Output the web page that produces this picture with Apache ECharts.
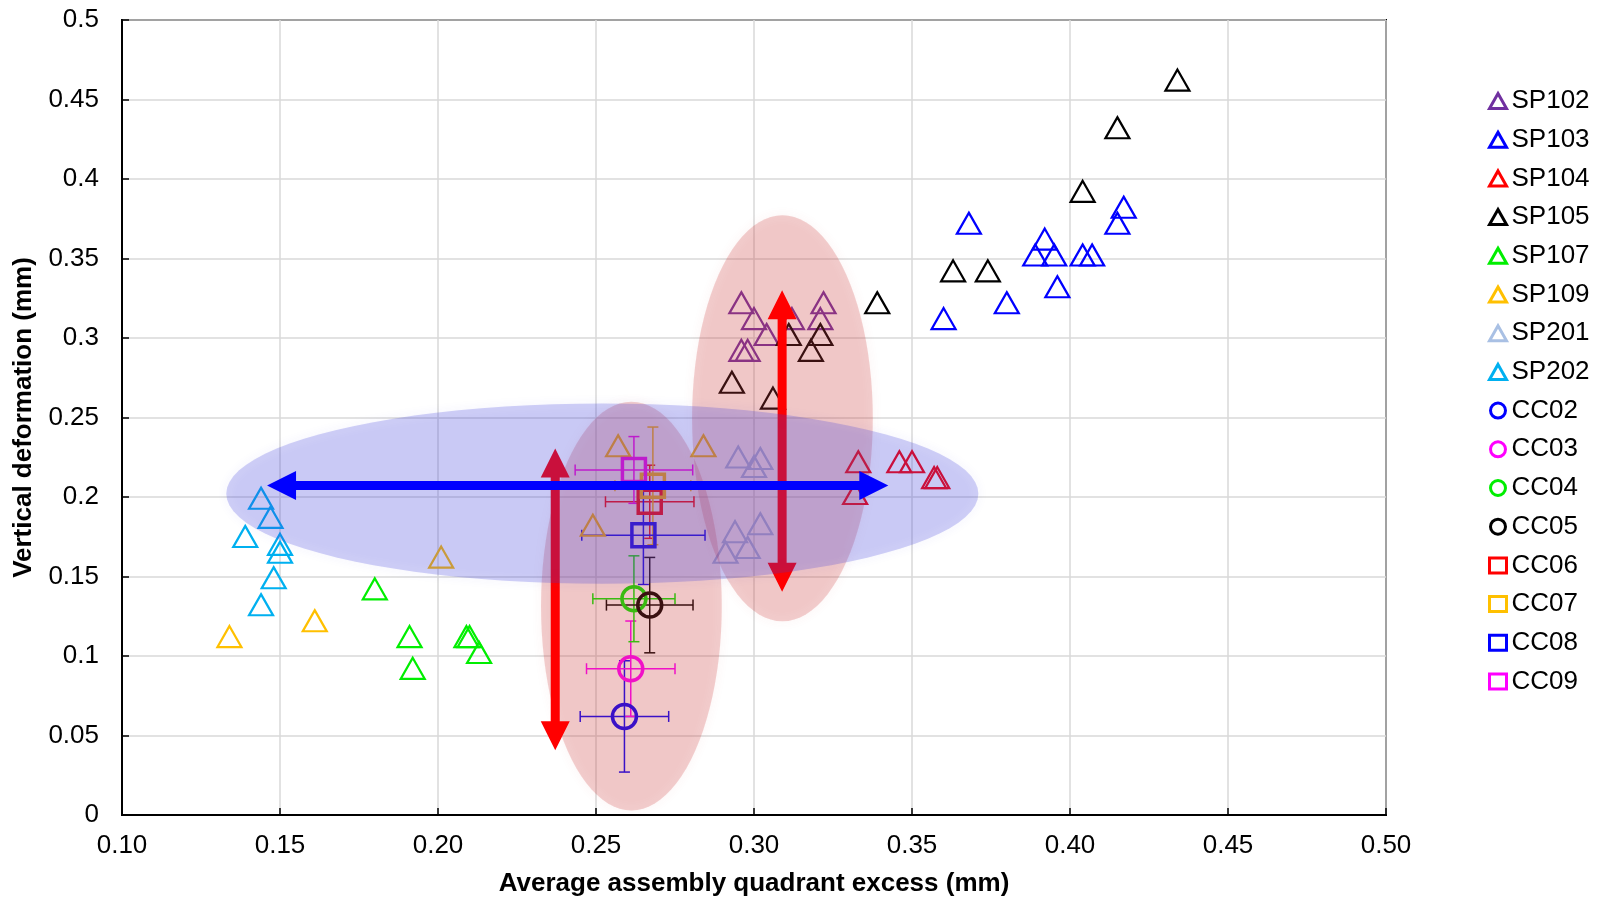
<!DOCTYPE html>
<html>
<head>
<meta charset="utf-8">
<script src="https://cdn.jsdelivr.net/npm/echarts@6/dist/echarts.min.js"></script>
<style>html,body{margin:0;padding:0;background:#fff;overflow:hidden}#c{width:1601px;height:897px}</style>
</head>
<body>
<div id="c"></div>
<script>
// ---- data ----
var xTicks = [0.10, 0.15, 0.20, 0.25, 0.30, 0.35, 0.40, 0.45, 0.50];
var yTicks = [0, 0.05, 0.1, 0.15, 0.2, 0.25, 0.3, 0.35, 0.4, 0.45, 0.5];

var SP102 = [[0.296,0.32],[0.300,0.31],[0.304,0.30],[0.312,0.31],[0.322,0.32],[0.321,0.31],[0.296,0.29],[0.298,0.29]];
var SP103 = [[0.368,0.37],[0.360,0.31],[0.380,0.32],[0.392,0.36],[0.389,0.35],[0.395,0.35],[0.396,0.33],[0.404,0.35],[0.407,0.35],[0.415,0.37],[0.417,0.38]];
var SP104 = [[0.333,0.22],[0.332,0.20],[0.346,0.22],[0.350,0.22],[0.357,0.21],[0.358,0.21]];
var SP105 = [[0.434,0.46],[0.415,0.43],[0.404,0.39],[0.339,0.32],[0.363,0.34],[0.374,0.34],[0.311,0.30],[0.321,0.30],[0.318,0.29],[0.293,0.27],[0.306,0.26]];
var SP107 = [[0.180,0.14],[0.191,0.11],[0.192,0.09],[0.209,0.11],[0.210,0.11],[0.213,0.10]];
var SP109 = [[0.134,0.11],[0.161,0.12],[0.201,0.16],[0.249,0.18],[0.257,0.23],[0.284,0.23]];
var SP201 = [[0.295,0.223],[0.302,0.222],[0.300,0.217],[0.294,0.176],[0.302,0.181],[0.298,0.166],[0.291,0.163]];
var SP202 = [[0.144,0.197],[0.147,0.185],[0.139,0.173],[0.150,0.168],[0.150,0.163],[0.148,0.147],[0.144,0.130]];

// [x, y, xError, yError]
var CC02 = [[0.259,0.062,0.014,0.035]];
var CC03 = [[0.261,0.092,0.014,0.030]];
var CC04 = [[0.262,0.136,0.013,0.027]];
var CC05 = [[0.267,0.132,0.0137,0.030]];
var CC06 = [[0.267,0.197,0.014,0.023]];
var CC07 = [[0.268,0.207,0.012,0.037]];
var CC08 = [[0.265,0.176,0.0195,0.031]];
var CC09 = [[0.262,0.217,0.0186,0.021]];

// annotations in data units: [cx, cy, rx, ry]
var pinkEllipses = [[0.2612,0.1314,0.0286,0.1285],[0.3090,0.2495,0.0286,0.1277]];
var blueEllipse = [[0.252,0.2021,0.119,0.0567]];
// double arrows: [x1, y1, x2, y2]
var redArrows = [[0.2371,0.2305,0.2371,0.0407],[0.3089,0.330,0.3089,0.1404]];
var blueArrows = [[0.1459,0.2073,0.3425,0.2073]];

// ---- chart ----
var FONT = 'Liberation Sans, Arial, sans-serif';
var chart = echarts.init(document.getElementById('c'), null, {renderer:'canvas'});

var triSeries = [
  ['SP102', SP102, '#7030A0'],
  ['SP103', SP103, '#0000FF'],
  ['SP104', SP104, '#FF0000'],
  ['SP105', SP105, '#000000'],
  ['SP107', SP107, '#00EE00'],
  ['SP109', SP109, '#FFC000'],
  ['SP201', SP201, '#A9C0E4'],
  ['SP202', SP202, '#00B0F0']
];
var ccSeries = [
  ['CC02', CC02, '#0000FF', 'circle'],
  ['CC03', CC03, '#FF00FF', 'circle'],
  ['CC04', CC04, '#00EE00', 'circle'],
  ['CC05', CC05, '#000000', 'circle'],
  ['CC06', CC06, '#FF0000', 'rect'],
  ['CC07', CC07, '#FFC000', 'rect'],
  ['CC08', CC08, '#0000FF', 'rect'],
  ['CC09', CC09, '#FF00FF', 'rect']
];

var series = [];
triSeries.forEach(function(s){
  series.push({
    name: s[0], type:'scatter', data: s[1], symbol:'triangle', symbolSize:[24,21], symbolOffset:[0,-3.5],
    itemStyle:{color:'rgba(0,0,0,0)', borderColor:s[2], borderWidth:2.2, opacity:1},
    emphasis:{disabled:true}, z:2
  });
});

function errRender(color){
  return function(params, api){
    var x = api.value(0), y = api.value(1), xe = api.value(2), ye = api.value(3);
    var l = api.coord([x-xe,y]), r = api.coord([x+xe,y]);
    var b = api.coord([x,y-ye]), t = api.coord([x,y+ye]);
    var cap = 5.5;
    var st = {stroke: color, lineWidth: 1.5};
    return {type:'group', children:[
      {type:'line', shape:{x1:l[0],y1:l[1],x2:r[0],y2:r[1]}, style:st},
      {type:'line', shape:{x1:l[0],y1:l[1]-cap,x2:l[0],y2:l[1]+cap}, style:st},
      {type:'line', shape:{x1:r[0],y1:r[1]-cap,x2:r[0],y2:r[1]+cap}, style:st},
      {type:'line', shape:{x1:b[0],y1:b[1],x2:t[0],y2:t[1]}, style:st},
      {type:'line', shape:{x1:b[0]-cap,y1:b[1],x2:b[0]+cap,y2:b[1]}, style:st},
      {type:'line', shape:{x1:t[0]-cap,y1:t[1],x2:t[0]+cap,y2:t[1]}, style:st}
    ]};
  };
}
ccSeries.forEach(function(s){
  series.push({
    name: s[0]+'_err', type:'custom', data: s[1], renderItem: errRender(s[2]),
    encode:{x:0,y:1}, silent:true, z:2
  });
});
ccSeries.forEach(function(s){
  series.push({
    name: s[0], type:'scatter', data: s[1].map(function(d){return [d[0],d[1]];}),
    symbol: s[3], symbolSize: s[3]==='circle'?24:23,
    itemStyle:{color:'rgba(0,0,0,0)', borderColor:s[2], borderWidth:3.5, opacity:1},
    emphasis:{disabled:true}, z:2
  });
});

function ellipseRender(fill, blur){
  return function(params, api){
    var c = api.coord([api.value(0), api.value(1)]);
    var sz = api.size([api.value(2), api.value(3)]);
    var pts = [];
    for (var i=0;i<96;i++){
      var a = i/96*Math.PI*2;
      pts.push([c[0]+sz[0]*Math.cos(a), c[1]+sz[1]*Math.sin(a)]);
    }
    return {type:'polygon', shape:{points:pts}, style:{fill:fill, shadowBlur:blur, shadowColor:fill}};
  };
}
function arrowRender(color){
  return function(params, api){
    var p1 = api.coord([api.value(0), api.value(1)]);
    var p2 = api.coord([api.value(2), api.value(3)]);
    var dx = p2[0]-p1[0], dy = p2[1]-p1[1], L = Math.sqrt(dx*dx+dy*dy);
    var ux = dx/L, uy = dy/L, nx = -uy, ny = ux;
    var hw = 4.5, hh = 14.5, hl = 29;
    function P(t, n){ return [p1[0]+ux*t+nx*n, p1[1]+uy*t+ny*n]; }
    var pts = [P(0,0), P(hl,hh), P(hl,hw), P(L-hl,hw), P(L-hl,hh), P(L,0), P(L-hl,-hh), P(L-hl,-hw), P(hl,-hw), P(hl,-hh)];
    return {type:'polygon', shape:{points:pts}, style:{fill:color}};
  };
}
series.push({name:'pinkEll', type:'custom', data:pinkEllipses, renderItem:ellipseRender('rgba(205,60,60,0.24)',12), encode:{x:0,y:1}, silent:true, z:3});
series.push({name:'redArr', type:'custom', data:redArrows, renderItem:arrowRender('#FF0000'), encode:{x:0,y:1}, silent:true, z:4});
series.push({name:'blueEll', type:'custom', data:blueEllipse, renderItem:ellipseRender('rgba(60,60,220,0.23)',12), encode:{x:0,y:1}, silent:true, z:5});
series.push({name:'blueArr', type:'custom', data:blueArrows, renderItem:arrowRender('#0000FF'), encode:{x:0,y:1}, silent:true, z:6});

var legendData = triSeries.map(function(s){return {name:s[0], icon:'triangle'};})
  .concat(ccSeries.map(function(s){return {name:s[0], icon:s[3]};}));

chart.setOption({
  animation:false,
  backgroundColor:'#fff',
  textStyle:{fontFamily:FONT},
  grid:{left:122, top:20, width:1264, height:795, show:true, borderColor:'#000', borderWidth:2, backgroundColor:'transparent', containLabel:false, outerBoundsMode:'none'},
  legend:{
    orient:'vertical', left:1483, top:83, data:legendData,
    itemWidth:17, itemHeight:15, itemGap:12.7, selectedMode:false,
    itemStyle:{borderWidth:3},
    textStyle:{fontSize:26, fontFamily:FONT, color:'#000', lineHeight:26}
  },
  xAxis:{
    type:'value', min:xTicks[0], max:xTicks[xTicks.length-1], interval:0.05,
    name:'Average assembly quadrant excess (mm)', nameLocation:'middle', nameGap:56,
    nameTextStyle:{fontSize:26, fontWeight:'bold', color:'#000', fontFamily:FONT},
    axisLine:{lineStyle:{color:'#000', width:2}},
    axisTick:{inside:true, length:7, lineStyle:{color:'#000', width:1.5}},
    axisLabel:{fontSize:26, color:'#000', margin:18, formatter:function(v){return v.toFixed(2);}},
    splitLine:{show:true, lineStyle:{color:'#D9D9D9', width:1.5}}
  },
  yAxis:{
    type:'value', min:yTicks[0], max:yTicks[yTicks.length-1], interval:0.05,
    name:'Vertical deformation (mm)', nameLocation:'middle', nameGap:85,
    nameTextStyle:{fontSize:26, fontWeight:'bold', color:'#000', fontFamily:FONT},
    axisLine:{lineStyle:{color:'#000', width:2}},
    axisTick:{inside:true, length:7, lineStyle:{color:'#000', width:1.5}},
    axisLabel:{fontSize:26, color:'#000', margin:23, formatter:function(v){return String(parseFloat(v.toFixed(2)));}},
    splitLine:{show:true, lineStyle:{color:'#D9D9D9', width:1.5}}
  },
  series:series
});
</script>
</body>
</html>
